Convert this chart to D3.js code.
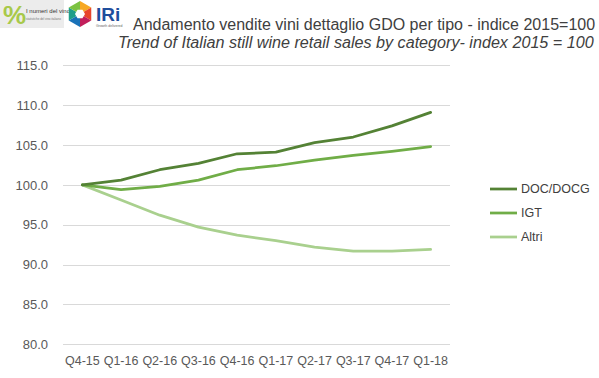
<!DOCTYPE html>
<html><head><meta charset="utf-8">
<script src="https://cdn.jsdelivr.net/npm/d3@7"></script>
<style>body{margin:0;background:#fff}svg{display:block}</style>
</head><body>
<svg id="c" width="599" height="378"></svg>
<script>
const categories = ["Q4-15","Q1-16","Q2-16","Q3-16","Q4-16","Q1-17","Q2-17","Q3-17","Q4-17","Q1-18"];
const docValues  = [100.0,100.6,101.9,102.7,103.9,104.1,105.3,106.0,107.4,109.1];
const igtValues  = [100.0,99.4,99.8,100.6,101.9,102.4,103.1,103.7,104.2,104.8];
const altriValues= [100.0,98.1,96.2,94.7,93.7,93.0,92.2,91.7,91.7,91.9];
const seriesNames = ["DOC/DOCG","IGT","Altri"];
const yTicks = [80,85,90,95,100,105,110,115];
const titleIt = "Andamento vendite vini dettaglio GDO per tipo - indice 2015=100";
const titleEn = "Trend of Italian still wine retail sales by category- index 2015 = 100";

const series = [
  {name: seriesNames[0], values: docValues, color: "#548235"},
  {name: seriesNames[1], values: igtValues, color: "#70AD47"},
  {name: seriesNames[2], values: altriValues, color: "#A9D08E"}
];

const svg = d3.select("#c");
const font = "'Liberation Sans Narrow','Liberation Sans',Arial,sans-serif";

const x = d3.scaleBand().domain(categories).range([63, 450]);
const y = d3.scaleLinear().domain([80, 115]).range([344.3, 65.3]);

// gridlines
svg.append("g").selectAll("line").data(yTicks).join("line")
  .attr("x1", 63).attr("x2", 450)
  .attr("y1", d => Math.round(y(d)) + 0.5).attr("y2", d => Math.round(y(d)) + 0.5)
  .attr("stroke", "#d9d9d9").attr("stroke-width", 1);

// y axis labels
const yAxis = d3.axisLeft(y).tickValues(yTicks).tickFormat(d3.format(".1f")).tickSize(0).tickPadding(0);
const ya = svg.append("g").attr("transform", "translate(48,0)").call(yAxis);
ya.select(".domain").remove();
ya.selectAll("text").attr("fill", "#595959").attr("font-size", 13).attr("font-family", "'Liberation Sans',Arial,sans-serif");

// x axis labels
const xAxis = d3.axisBottom(x).tickSize(0).tickPadding(0);
const xa = svg.append("g").attr("transform", "translate(0,356)").call(xAxis);
xa.select(".domain").remove();
xa.selectAll("text").attr("fill", "#595959").attr("font-size", 12.5).attr("font-family", "'Liberation Sans',Arial,sans-serif");

// lines
const line = d3.line().x((d, i) => x(categories[i]) + x.bandwidth() / 2).y(d => y(d));
svg.append("g").selectAll("path").data(series.slice().reverse()).join("path")
  .attr("d", d => line(d.values))
  .attr("fill", "none").attr("stroke", d => d.color)
  .attr("stroke-width", 2.75).attr("stroke-linejoin", "round").attr("stroke-linecap", "round");

// legend
const lg = svg.append("g").selectAll("g").data(series).join("g")
  .attr("transform", (d, i) => `translate(490,${189 + i * 24})`);
lg.append("line").attr("x1", 0).attr("x2", 27).attr("stroke", d => d.color).attr("stroke-width", 2.75);
lg.append("text").attr("x", 31).attr("dy", "0.35em").text(d => d.name)
  .attr("fill", "#404040").attr("font-size", 12.5).attr("font-family", "'Liberation Sans',Arial,sans-serif");

// titles, sized so their natural width fits the reference span
function fitTitle(txt, x0, y0, target, italic) {
  const t = svg.append("text").attr("x", x0).attr("y", y0).text(txt)
    .attr("fill", "#404040").attr("font-size", 17).attr("font-family", font)
    .attr("font-style", italic ? "italic" : "normal");
  const w = t.node().getComputedTextLength();
  t.attr("font-size", (17 * target / w).toFixed(2));
}
fitTitle(titleIt, 133, 30, 462, false);
fitTitle(titleEn, 118, 48, 476, true);

// logo 1: I numeri del vino
const l1 = svg.append("g");
l1.append("rect").attr("x", 0).attr("y", 0).attr("width", 64).attr("height", 28).attr("fill", "#ececec");
l1.append("text").attr("x", 3).attr("y", 24).text("%").attr("font-size", 26).attr("font-weight", "bold")
  .attr("fill", "#a8c94a").attr("font-family", "'Liberation Sans',Arial,sans-serif");
l1.append("text").attr("x", 26).attr("y", 13).text("I numeri del vino").attr("font-size", 6)
  .attr("fill", "#333").attr("font-family", font);
l1.append("text").attr("x", 26).attr("y", 20).text("statistiche del vino italiano").attr("font-size", 3)
  .attr("fill", "#777").attr("font-family", font);

// logo 2: IRi hexagon
const cx = 80, cy = 14, r = 13;
const hexPts = d3.range(6).map(i => [cx + r * Math.cos(Math.PI / 3 * i - Math.PI / 2), cy + r * Math.sin(Math.PI / 3 * i - Math.PI / 2)]);
const hexCols = ["#f7a823", "#e8452c", "#c21f5b", "#1a72b8", "#1f9e8a", "#7cc242"];
hexPts.forEach((p, i) => {
  const q = hexPts[(i + 1) % 6];
  svg.append("path").attr("d", `M${cx},${cy}L${p[0]},${p[1]}L${q[0]},${q[1]}Z`).attr("fill", hexCols[i]);
});
svg.append("path").attr("d", d3.line()(d3.range(6).map(i => [cx + 5 * Math.cos(Math.PI / 3 * i), cy + 5 * Math.sin(Math.PI / 3 * i)])) + "Z").attr("fill", "#fff");
svg.append("text").attr("x", 96).attr("y", 21).text("IRi").attr("font-size", 19).attr("font-weight", "bold")
  .attr("fill", "#1f4e9c").attr("font-family", "'Liberation Sans',Arial,sans-serif");
svg.append("text").attr("x", 96).attr("y", 27).text("Growth delivered").attr("font-size", 3.5)
  .attr("fill", "#666").attr("font-family", "'Liberation Sans',Arial,sans-serif");
</script>
</body></html>
